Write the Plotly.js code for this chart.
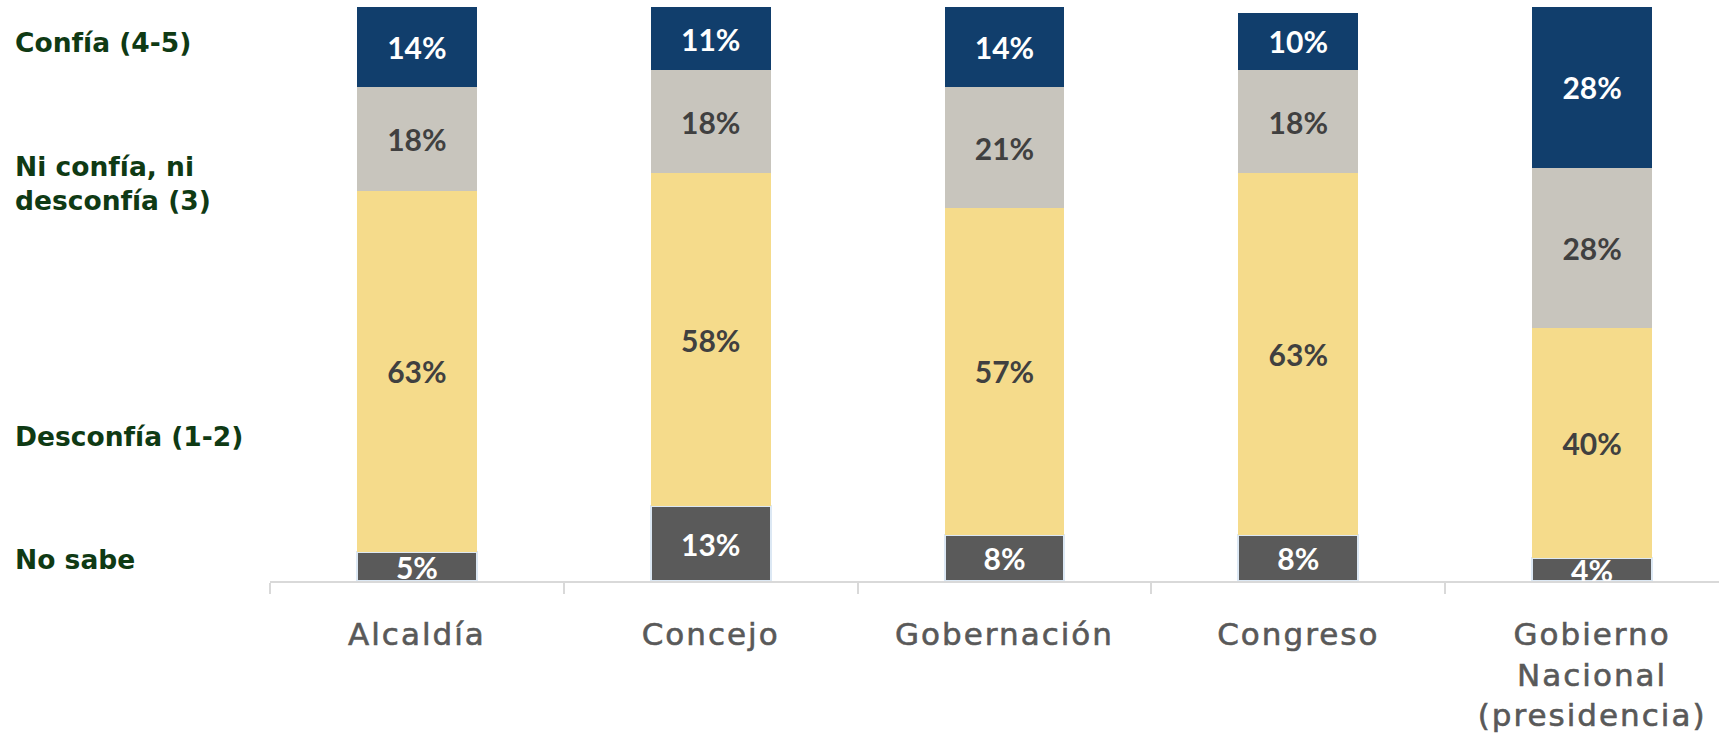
<!DOCTYPE html>
<html>
<head>
<meta charset="utf-8">
<script src="https://cdn.plot.ly/plotly-3.0.1.min.js"></script>
<style>
  html, body { margin: 0; padding: 0; background: #ffffff; }
  #chart { width: 1719px; height: 735px; }
  .xtick text { letter-spacing: 2px; stroke: #595959; stroke-width: 0.6px; }
</style>
</head>
<body>
<div id="chart"></div>
<script>
// ---- Data ----
var categories = ['Alcaldía', 'Concejo', 'Gobernación', 'Congreso', 'Gobierno<br>Nacional<br>(presidencia)'];
var noSabe     = [5, 13, 8, 8, 4];
var desconfia  = [63, 58, 57, 63, 40];
var niNi       = [18, 18, 21, 18, 28];
var confia     = [14, 11, 14, 10, 28];
var seriesLabels = ['No sabe', 'Desconfía (1-2)', 'Ni confía, ni<br>desconfía (3)', 'Confía (4-5)'];

// ---- Styles ----
var colNoSabe = '#5a5a5a';
var colDesconfia = '#f5db8b';
var colNi = '#c8c5bd';
var colConfia = '#113e6c';
var labelFont = 'Lato, "DejaVu Sans", sans-serif';

function pct(v) { return v.map(function (d) { return d + '%'; }); }

function barTrace(vals, name, color, textColor, lineColor, lineW) {
  return {
    type: 'bar',
    x: categories,
    y: vals,
    name: name,
    text: pct(vals),
    textposition: 'inside',
    insidetextanchor: 'middle',
    textangle: 0,
    constraintext: 'none',
    textfont: { family: labelFont, size: 30, color: textColor, weight: 'bold' },
    marker: { color: color, line: { color: lineColor || color, width: lineW || 0 } },
    hoverinfo: 'skip',
    cliponaxis: true
  };
}

var data = [
  barTrace(noSabe, seriesLabels[0], colNoSabe, '#ffffff', '#dce8f4', 2),
  barTrace(desconfia, seriesLabels[1], colDesconfia, '#404040'),
  barTrace(niNi, seriesLabels[2], colNi, '#404040'),
  barTrace(confia, seriesLabels[3], colConfia, '#ffffff')
];

var W = 1719, H = 735;
var mL = 270, mR = 0, mT = 7, mB = 154;
var plotW = W - mL - mR;
var catPx = 293.8;

var leftLabelY = [0.0366, 0.251, 0.693, 0.939];
var annotations = seriesLabels.map(function (t, i) {
  return {
    text: t,
    xref: 'paper', yref: 'paper',
    x: -(mL - 13) / plotW, y: leftLabelY[i],
    xanchor: 'left', yanchor: 'middle', align: 'left',
    showarrow: false,
    font: { family: '"DejaVu Sans", sans-serif', size: 26.5, color: '#0f3a14', weight: 'bold' }
  };
});

var layout = {
  width: W, height: H,
  margin: { l: mL, r: mR, t: mT, b: mB, pad: 0 },
  barmode: 'stack',
  bargap: 0.592,
  showlegend: false,
  paper_bgcolor: '#ffffff',
  plot_bgcolor: '#ffffff',
  hovermode: false,
  xaxis: {
    type: 'category',
    range: [-0.5, -0.5 + plotW / catPx],
    showline: true, linecolor: '#d9d9d9', linewidth: 2,
    ticks: 'outside', tickson: 'boundaries', ticklen: 11, tickcolor: '#d9d9d9', tickwidth: 2,
    ticklabelstandoff: 25,
    tickfont: { family: '"DejaVu Sans", sans-serif', size: 31, color: '#595959' },
    showgrid: false, zeroline: false, fixedrange: true
  },
  yaxis: {
    range: [0, 100],
    visible: false, showgrid: false, zeroline: false, fixedrange: true
  },
  annotations: annotations
};

Plotly.newPlot('chart', data, layout, { displayModeBar: false, staticPlot: true });
</script>
</body>
</html>
